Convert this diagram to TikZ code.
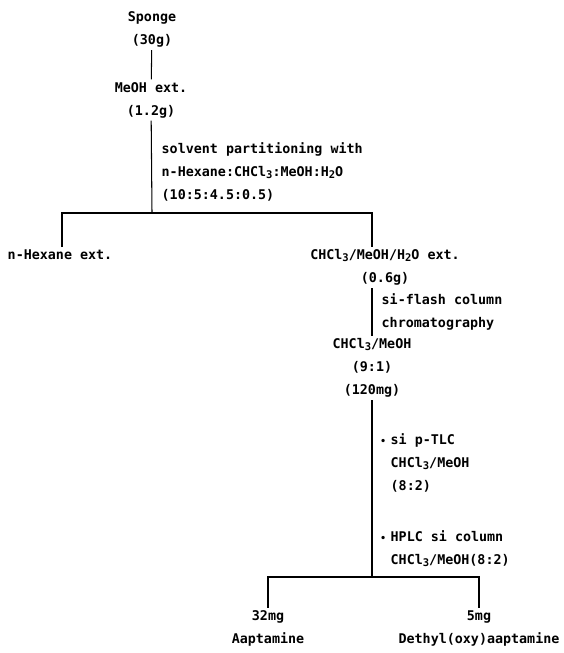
\documentclass[tikz,border=0pt]{standalone}
\usepackage{fontspec}
\newfontfamily\figfont{DejaVu Sans Mono}
\newcommand{\sub}[1]{\raisebox{-0.25ex}{\fontsize{9pt}{9pt}\selectfont#1}}
\newcommand{\dotmark}{\llap{\fontsize{8pt}{8pt}\selectfont\textbullet\hspace{4pt}}}
\tikzset{
  txt/.style={align=center,inner sep=2pt},
  note/.style={align=left,anchor=west,inner sep=1pt}
}
\begin{document}
\begin{tikzpicture}[x=0.03cm,y=-0.03cm,font=\figfont\bfseries\fontsize{11.4pt}{19.6pt}\selectfont,line width=0.9pt]
	\useasboundingbox (0,0) rectangle (563,653);
	% Chiết xuất
	\node[txt] (sponge) at (152,29.5) {Sponge\\(30g)};
	\node[txt] (meoh) at (151,100) {MeOH ext.\\(1.2g)};
	\draw (sponge) -- (meoh);
	% Phân bố dung môi
	\path (152,213) coordinate (s1)
	(62,213) coordinate (l1)
	(372,213) coordinate (r1)
	(372,577) coordinate (s2);
	\draw (meoh) -- (s1);
	\node[note] (part) at (160,172) {solvent partitioning with\\n-Hexane:CHCl\sub{3}:MeOH:H\sub{2}O\\(10:5:4.5:0.5)};
	\node[txt] (hex) at (60,255) {n-Hexane ext.};
	\node[txt] (chl) at (385,267.5) {CHCl\sub{3}/MeOH/H\sub{2}O ext.\\(0.6g)};
	\draw (hex.north -| l1) |- (r1) -- (chl.north -| r1);
	% Sắc ký cột
	\node[txt] (fr) at (372,368) {CHCl\sub{3}/MeOH\\(9:1)\\(120mg)};
	\draw (chl.south -| fr) -- (fr.north);
	\node[note] (flash) at (380,311.5) {si-flash column\\chromatography};
	\draw (fr) -- (s2);
	\node[note] (tlc) at (389,463) {\dotmark si p-TLC\\CHCl\sub{3}/MeOH\\(8:2)};
	\node[note] (hplc) at (389,548.5) {\dotmark HPLC si column\\CHCl\sub{3}/MeOH(8:2)};
	% Sản phẩm
	\node[txt] (aap) at (268,628.5) {32mg\\Aaptamine};
	\node[txt] (dox) at (479,628.5) {5mg\\Dethyl(oxy)aaptamine};
	\draw (aap.north) |- (s2) -| (dox.north);
\end{tikzpicture}
\end{document}
